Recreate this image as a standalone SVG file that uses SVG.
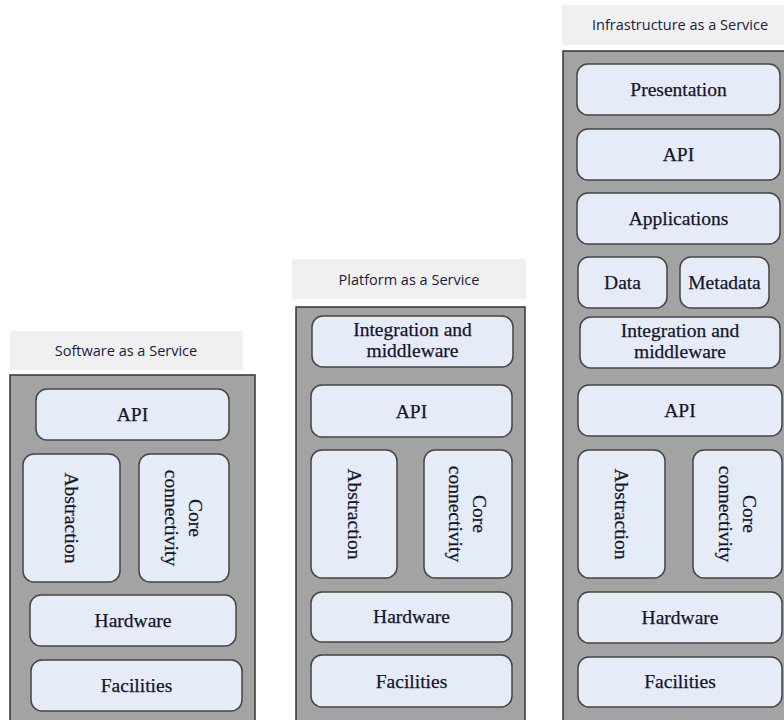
<svg xmlns="http://www.w3.org/2000/svg" width="784" height="720" viewBox="0 0 784 720">
  <style>
    .hdr { fill: #f0f0f0; }
    .hdr-t { font-family: "Open Sans", "Noto Sans", sans-serif; font-size: 14.5px; fill: #1a1a40; text-anchor: middle; }
    .stack { fill: #a3a3a3; stroke: #333333; stroke-width: 1.5; }
    .box { fill: #e6ecf7; stroke: #444444; stroke-width: 1.5; }
    .lbl { font-family: "Liberation Serif", "Times New Roman", serif; font-size: 19.5px; fill: #15152a; stroke: #15152a; stroke-width: 0.25; text-anchor: middle; }
  </style>

  <!-- Software as a Service -->
  <g id="saas">
    <rect class="hdr" x="10" y="331" width="233" height="39"/>
    <text class="hdr-t" x="126" y="356">Software as a Service</text>
    <rect class="stack" x="10" y="375" width="245" height="360"/>
  </g>
  <g id="saas-api"><rect class="box" x="36" y="389" width="193" height="51" rx="11"/><text class="lbl" x="132.5" y="421">API</text></g>
  <g id="saas-abstraction"><rect class="box" x="23" y="454" width="97" height="128" rx="11"/><text class="lbl" transform="translate(71.5 518) rotate(90)" dominant-baseline="central">Abstraction</text></g>
  <g id="saas-core"><rect class="box" x="139" y="454" width="90" height="128" rx="11"/><text class="lbl" transform="translate(184 518) rotate(90)" dominant-baseline="central"><tspan x="0" y="-12">Core</tspan><tspan x="0" y="12">connectivity</tspan></text></g>
  <g id="saas-hardware"><rect class="box" x="30" y="595" width="206" height="51" rx="11"/><text class="lbl" x="133" y="627">Hardware</text></g>
  <g id="saas-facilities"><rect class="box" x="31" y="660" width="211" height="51" rx="11"/><text class="lbl" x="136.5" y="692">Facilities</text></g>

  <!-- Platform as a Service -->
  <g id="paas">
    <rect class="hdr" x="292" y="259" width="234" height="40"/>
    <text class="hdr-t" x="409" y="285">Platform as a Service</text>
    <rect class="stack" x="296" y="307" width="229" height="430"/>
  </g>
  <g id="paas-integration"><rect class="box" x="312" y="316" width="201" height="51" rx="11"/><text class="lbl"><tspan x="412.5" y="336">Integration and</tspan><tspan x="412.5" y="357">middleware</tspan></text></g>
  <g id="paas-api"><rect class="box" x="311" y="385" width="201" height="52" rx="11"/><text class="lbl" x="411.5" y="418">API</text></g>
  <g id="paas-abstraction"><rect class="box" x="311" y="450" width="86" height="128" rx="11"/><text class="lbl" transform="translate(354 514) rotate(90)" dominant-baseline="central">Abstraction</text></g>
  <g id="paas-core"><rect class="box" x="424" y="450" width="88" height="128" rx="11"/><text class="lbl" transform="translate(468 514) rotate(90)" dominant-baseline="central"><tspan x="0" y="-12">Core</tspan><tspan x="0" y="12">connectivity</tspan></text></g>
  <g id="paas-hardware"><rect class="box" x="311" y="592" width="201" height="50" rx="11"/><text class="lbl" x="411.5" y="623">Hardware</text></g>
  <g id="paas-facilities"><rect class="box" x="311" y="655" width="201" height="52" rx="11"/><text class="lbl" x="411.5" y="688">Facilities</text></g>

  <!-- Infrastructure as a Service -->
  <g id="iaas">
    <rect class="hdr" x="562" y="5" width="230" height="40"/>
    <text class="hdr-t" x="680" y="30">Infrastructure as a Service</text>
    <rect class="stack" x="563" y="51" width="230" height="690"/>
  </g>
  <g id="iaas-presentation"><rect class="box" x="577" y="64" width="203" height="51" rx="11"/><text class="lbl" x="678.5" y="96">Presentation</text></g>
  <g id="iaas-api-top"><rect class="box" x="577" y="129" width="203" height="51" rx="11"/><text class="lbl" x="678.5" y="161">API</text></g>
  <g id="iaas-applications"><rect class="box" x="577" y="193" width="203" height="51" rx="11"/><text class="lbl" x="678.5" y="225">Applications</text></g>
  <g id="iaas-data"><rect class="box" x="578" y="257" width="89" height="51" rx="11"/><text class="lbl" x="622.5" y="289">Data</text></g>
  <g id="iaas-metadata"><rect class="box" x="680" y="257" width="89" height="51" rx="11"/><text class="lbl" x="724.5" y="289">Metadata</text></g>
  <g id="iaas-integration"><rect class="box" x="580" y="317" width="200" height="51" rx="11"/><text class="lbl"><tspan x="680" y="337">Integration and</tspan><tspan x="680" y="358">middleware</tspan></text></g>
  <g id="iaas-api"><rect class="box" x="578" y="385" width="204" height="51" rx="11"/><text class="lbl" x="680" y="417">API</text></g>
  <g id="iaas-abstraction"><rect class="box" x="578" y="450" width="87" height="128" rx="11"/><text class="lbl" transform="translate(621.5 514) rotate(90)" dominant-baseline="central">Abstraction</text></g>
  <g id="iaas-core"><rect class="box" x="693" y="450" width="89" height="128" rx="11"/><text class="lbl" transform="translate(737.5 514) rotate(90)" dominant-baseline="central"><tspan x="0" y="-12">Core</tspan><tspan x="0" y="12">connectivity</tspan></text></g>
  <g id="iaas-hardware"><rect class="box" x="578" y="592" width="204" height="51" rx="11"/><text class="lbl" x="680" y="624">Hardware</text></g>
  <g id="iaas-facilities"><rect class="box" x="578" y="657" width="204" height="50" rx="11"/><text class="lbl" x="680" y="688">Facilities</text></g>

  <!-- no connectors in this layered view -->
  <g id="connectors"/>
</svg>
